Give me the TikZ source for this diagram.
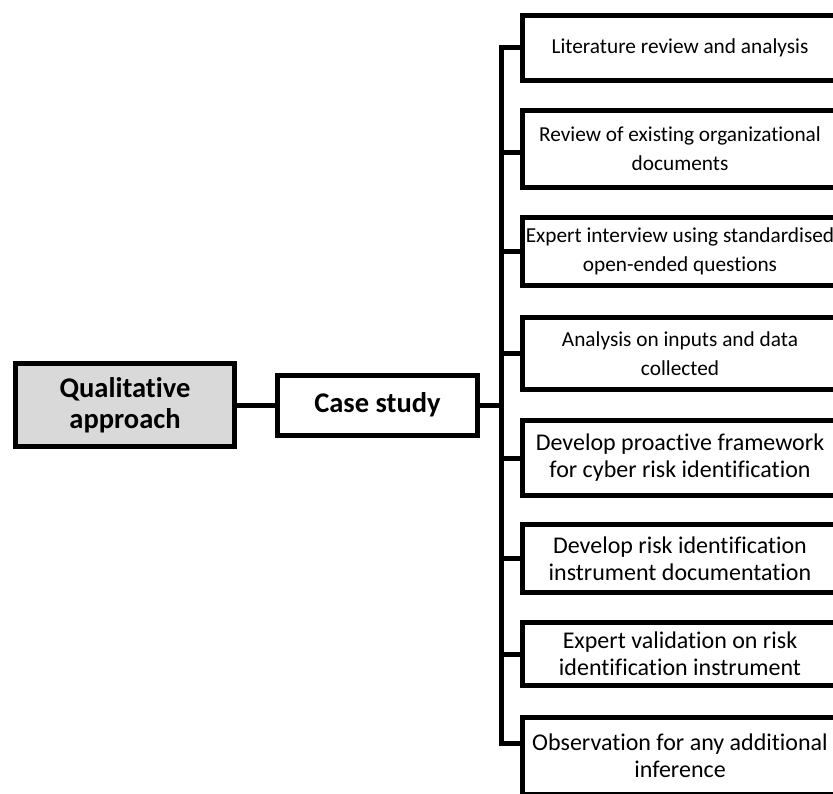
\documentclass[tikz,border=0pt]{standalone}
\usepackage{fontspec}
\setmainfont{Carlito}[Ligatures={NoCommon,NoContextual}]
\begin{document}
\begin{tikzpicture}[x=1pt,y=-1pt,
  line join=miter,
  box/.style={draw=black, line width=5pt, fill=white, rectangle, inner sep=0pt,
    align=center, text=black},
  rootbox/.style={box, fill=gray!30, font=\bfseries\fontsize{28.5}{31}\selectfont},
  midbox/.style={box, font=\bfseries\fontsize{28.5}{31}\selectfont},
  stepsmall/.style={box, minimum width=314.5pt, font=\fontsize{21.3}{29}\selectfont},
  steplarge/.style={box, minimum width=314.5pt, font=\fontsize{24}{27}\selectfont},
  conn/.style={draw=black, line width=5pt}]
\useasboundingbox (0,0) rectangle (833,793);
\clip (0,0) rectangle (833,793);

% left part of the tree
\node[rootbox, minimum width=219pt, minimum height=83pt] (qa) at (125,405)
  {Qualitative\\approach};
\node[midbox, minimum width=200pt, minimum height=60pt] (cs) at (377.5,405)
  {Case study};

% activities
\node[stepsmall, minimum height=65pt] (b1) at (680,48)
  {Literature review and analysis};
\node[stepsmall, minimum height=77pt] (b2) at (680,149)
  {Review of existing organizational\\documents};
\node[stepsmall, minimum height=68pt] (b3) at (680,251.5)
  {Expert interview using standardised\\open-ended questions};
\node[stepsmall, minimum height=72pt] (b4) at (680,353.5)
  {Analysis on inputs and data\\collected};
\node[steplarge, minimum height=75pt] (b5) at (680,458)
  {Develop proactive framework\\for cyber risk identification};
\node[steplarge, minimum height=68pt] (b6) at (680,558.5)
  {Develop risk identification\\instrument documentation};
\node[steplarge, minimum height=63pt] (b7) at (680,654)
  {Expert validation on risk\\identification instrument};
\node[steplarge, minimum height=77pt] (b8) at (680,756)
  {Observation for any additional\\inference};

% connectors
\coordinate (bus) at (501,0);
\coordinate (s1) at ([yshift=1pt]b1.west);
\coordinate (s2) at ([yshift=-3pt]b2.west);
\coordinate (s8) at ([yshift=13pt]b8.west);
\draw[conn] (qa.east) -- (cs.west);
\draw[conn] (cs.east) -- (bus |- cs.east);
\draw[conn] (s1) -- (bus |- s1) -- (bus |- s8) -- (s8);
\draw[conn] (bus |- s2) -- (s2);
\foreach \b in {b3,b4,b5,b6,b7}
  \draw[conn] (bus |- \b.west) -- (\b.west);
\end{tikzpicture}
\end{document}
